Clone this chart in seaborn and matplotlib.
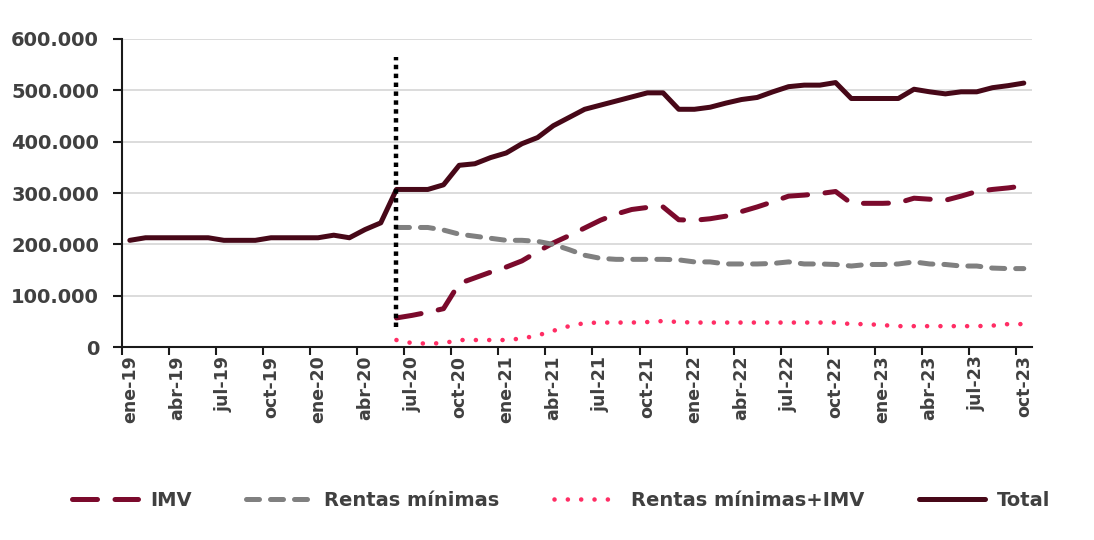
import numpy as np
import pandas as pd
import matplotlib
matplotlib.use("Agg")
import matplotlib.pyplot as plt
import seaborn as sns

# =====================================================
# DATA (monthly, ene-19 .. oct-23)
# =====================================================

month_abbr = ["ene", "feb", "mar", "abr", "may", "jun",
              "jul", "ago", "sep", "oct", "nov", "dic"]

months = [f"{month_abbr[m]}-{y % 100:02d}"
          for y in range(2019, 2024) for m in range(12)][:58]

total = [
    208000, 213000, 213000, 213000, 213000, 213000, 208000, 208000, 208000, 213000,
    213000, 213000, 213000, 218000, 213000, 229000, 242000, 307000, 307000, 307000,
    316000, 354000, 357000, 369000, 378000, 396000, 408000, 431000, 447000, 463000,
    471000, 479000, 487000, 495000, 495000, 463000, 463000, 467000, 475000, 482000,
    486000, 497000, 507000, 510000, 510000, 515000, 484000, 484000, 484000, 484000,
    502000, 497000, 493000, 497000, 497000, 505000, 509000, 514000,
]

imv = [np.nan] * 17 + [
    57000, 62000, 68000, 75000, 124000, 135000, 146000, 156000, 168000, 186000,
    203000, 217000, 232000, 247000, 259000, 268000, 272000, 273000, 248000, 247000,
    250000, 255000, 264000, 273000, 283000, 294000, 296000, 299000, 303000, 280000,
    280000, 280000, 281000, 290000, 288000, 286000, 294000, 303000, 307000, 310000,
    314000,
]

rentas = [np.nan] * 17 + [
    233000, 233000, 233000, 228000, 220000, 216000, 212000, 208000, 208000, 206000,
    200000, 190000, 179000, 173000, 171000, 171000, 171000, 171000, 170000, 166000,
    166000, 162000, 162000, 162000, 163000, 166000, 162000, 162000, 161000, 158000,
    161000, 161000, 162000, 166000, 162000, 161000, 158000, 158000, 154000, 153000,
    153000,
]

rentas_imv = [np.nan] * 17 + [
    14000, 8000, 7000, 8000, 14000, 14000, 14000, 14000, 17000, 23000,
    32000, 41000, 47000, 48000, 48000, 48000, 49000, 51000, 49000, 48000,
    48000, 48000, 48000, 48000, 48000, 48000, 48000, 48000, 48000, 45000,
    45000, 43000, 41000, 41000, 41000, 41000, 41000, 41000, 42000, 45000,
    45000,
]

marker_month = "jun-20"

df = pd.DataFrame({
    "idx": np.arange(len(months)),
    "month": months,
    "IMV": imv,
    "Rentas mínimas": rentas,
    "Rentas mínimas+IMV": rentas_imv,
    "Total": total,
})

# =====================================================
# PLOT
# =====================================================

sns.set_style("white")
plt.rcParams["font.family"] = ["DejaVu Sans"]
plt.rcParams["font.weight"] = "bold"

text_col = "#404040"

fig = plt.figure(figsize=(10.94, 5.40), dpi=100)
ax = fig.add_axes([0.1115, 0.357, 0.8315, 0.571])

# dotted vertical marker
x_mark = months.index(marker_month)
ax.vlines(x_mark, 40000, 565000, color="black", lw=3.2,
          linestyle=(0, (1, 1)), zorder=5)

sns.lineplot(data=df, x="idx", y="IMV", ax=ax, color="#7b0a2c",
             lw=3.6, linestyle=(0, (5.0, 3.5)), dash_capstyle="round",
             label="IMV")
sns.lineplot(data=df, x="idx", y="Rentas mínimas", ax=ax, color="#808080",
             lw=3.6, linestyle=(0, (2.6, 2.2)), dash_capstyle="round",
             label="Rentas mínimas")
sns.lineplot(data=df, x="idx", y="Rentas mínimas+IMV", ax=ax, color="#ff2d64",
             lw=3.3, linestyle=(0, (0.01, 2.9)), dash_capstyle="round",
             label="Rentas mínimas+IMV")
sns.lineplot(data=df, x="idx", y="Total", ax=ax, color="#470818",
             lw=3.6, solid_capstyle="round", label="Total")

# axes
ax.set_xlim(-0.5, len(months) - 0.5)
ax.set_ylim(0, 600000)
ax.set_xlabel("")
ax.set_ylabel("")

yt = np.arange(0, 600001, 100000)
ax.set_yticks(yt)
ax.set_yticklabels([f"{v:,.0f}".replace(",", ".") for v in yt],
                   fontsize=14, color=text_col, fontweight="bold")
ax.yaxis.grid(True, color="#d9d9d9", lw=1.3)
ax.set_axisbelow(True)

lab_pos = np.arange(0, len(months), 3)
ax.set_xticks(lab_pos)
ax.set_xticklabels([months[i] for i in lab_pos], rotation=90,
                   fontsize=12.5, color=text_col, fontweight="bold")
ax.set_xticks(np.arange(-0.5, len(months), 3), minor=True)
ax.tick_params(axis="x", which="major", length=0, pad=6)
ax.tick_params(axis="x", which="minor", length=6, width=1.5,
               color="#1a1a1a", direction="out", bottom=True)
ax.tick_params(axis="y", length=6.5, width=1.5, color="#1a1a1a",
               direction="out", left=True, pad=10)

for s in ["top", "right"]:
    ax.spines[s].set_visible(False)
for s in ["left", "bottom"]:
    ax.spines[s].set_color("#1a1a1a")
    ax.spines[s].set_linewidth(1.5)

handles, labels = ax.get_legend_handles_labels()
ax.get_legend().remove()
fig.legend(handles, labels, loc="center", bbox_to_anchor=(0.513, 0.074),
           ncol=4, frameon=False, handlelength=3.4, columnspacing=2.8,
           handletextpad=0.6,
           prop={"size": 14, "weight": "bold"}, labelcolor=text_col)

plt.savefig("out.png", dpi=100)
plt.close()
